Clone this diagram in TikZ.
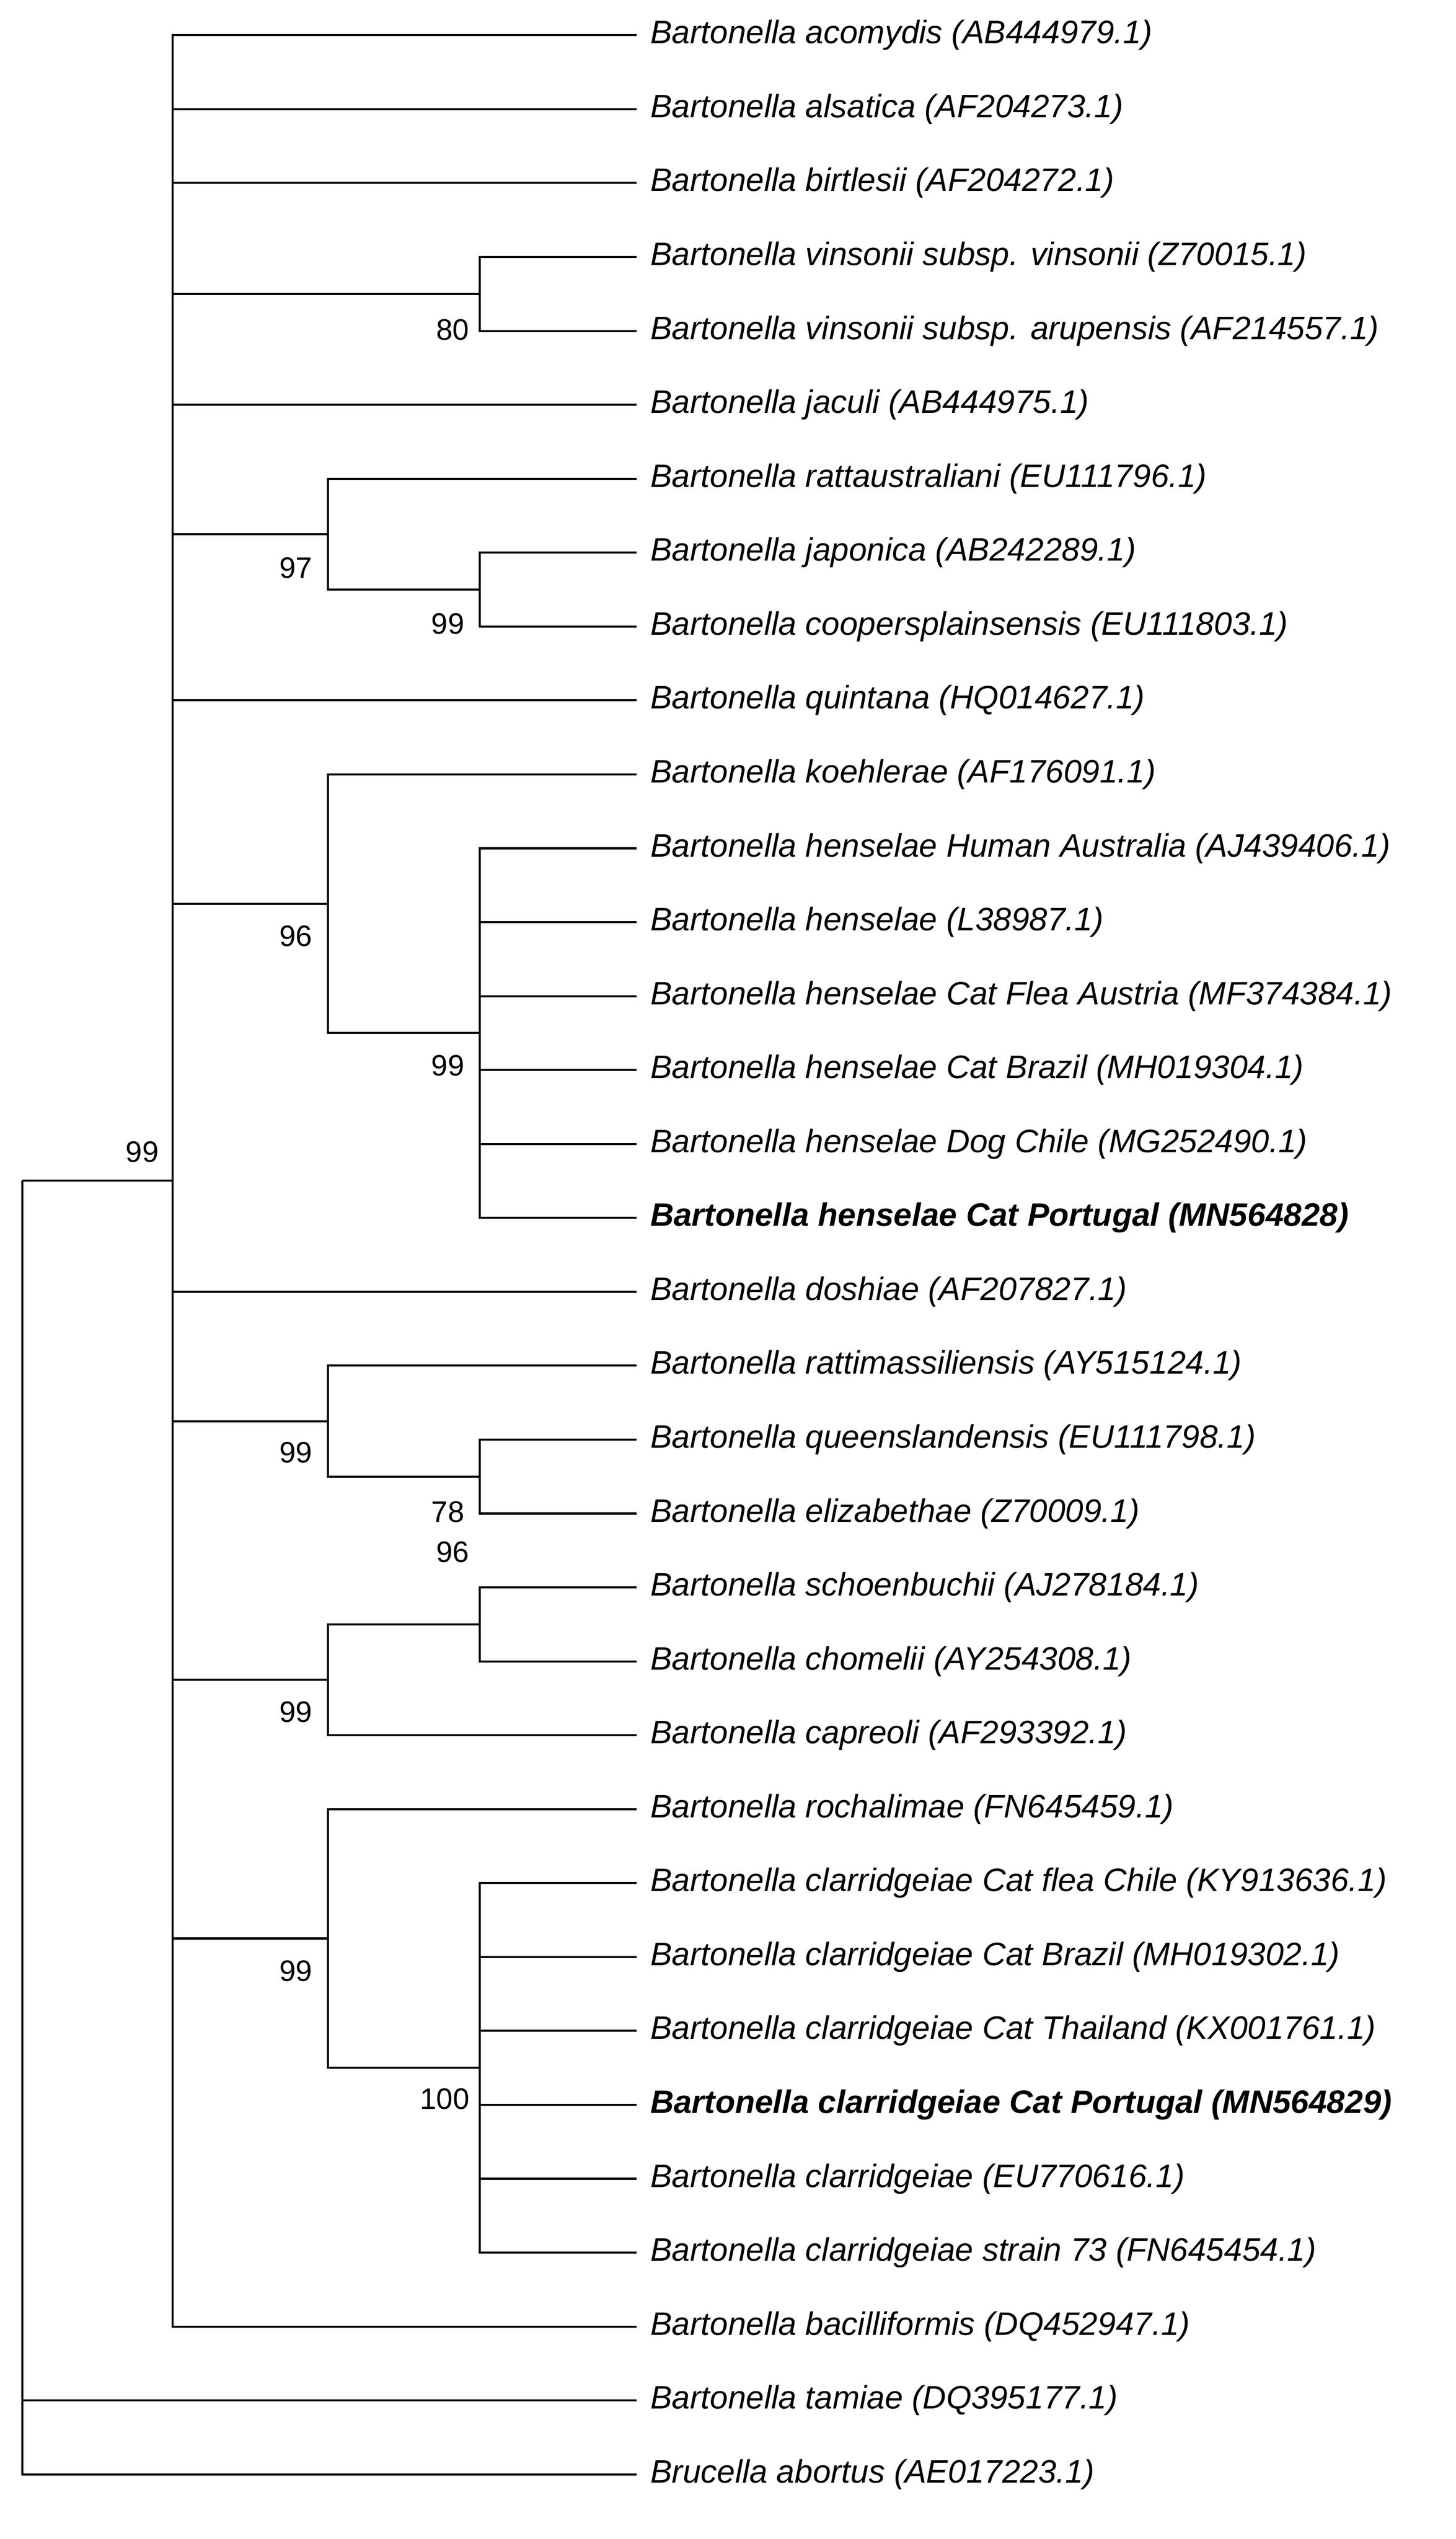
\documentclass[tikz,border=0pt]{standalone}
\usepackage{fontspec}
\setmainfont{Liberation Sans}
\begin{document}
\begin{tikzpicture}[x=1pt,y=-1pt,line width=1.3pt,
  leaf/.style={anchor=west,inner xsep=8pt,inner ysep=0pt,font=\fontsize{20.3}{23}\selectfont\itshape},
  bleaf/.style={leaf,font=\fontsize{20.3}{23}\selectfont\bfseries\itshape},
  boot/.style={font=\fontsize{18.5}{20}\selectfont,inner sep=0pt}]
\useasboundingbox[fill=white] (0,0) rectangle (910,1587);
\def\L#1#2#3{\node[leaf] (#1) at (398,#2) {Bartonella #3};}
\L{l1}{22}{acomydis (AB444979.1)}
\L{l2}{68.2}{alsatica (AF204273.1)}
\L{l3}{114.4}{birtlesii (AF204272.1)}
\L{l4}{160.6}{vinsonii subsp. vinsonii (Z70015.1)}
\L{l5}{206.8}{vinsonii subsp. arupensis (AF214557.1)}
\L{l6}{253}{jaculi (AB444975.1)}
\L{l7}{299.2}{rattaustraliani (EU111796.1)}
\L{l8}{345.4}{japonica (AB242289.1)}
\L{l9}{391.6}{coopersplainsensis (EU111803.1)}
\L{l10}{437.8}{quintana (HQ014627.1)}
\L{l11}{484}{koehlerae (AF176091.1)}
\L{l12}{530.2}{henselae Human Australia (AJ439406.1)}
\L{l13}{576.4}{henselae (L38987.1)}
\L{l14}{622.6}{henselae Cat Flea Austria (MF374384.1)}
\L{l15}{668.8}{henselae Cat Brazil (MH019304.1)}
\L{l16}{715}{henselae Dog Chile (MG252490.1)}
\node[bleaf] (l17) at (398,761.2) {Bartonella henselae Cat Portugal (MN564828)};
\L{l18}{807.4}{doshiae (AF207827.1)}
\L{l19}{853.6}{rattimassiliensis (AY515124.1)}
\L{l20}{899.8}{queenslandensis (EU111798.1)}
\L{l21}{946}{elizabethae (Z70009.1)}
\L{l22}{992.2}{schoenbuchii (AJ278184.1)}
\L{l23}{1038.4}{chomelii (AY254308.1)}
\L{l24}{1084.6}{capreoli (AF293392.1)}
\L{l25}{1130.8}{rochalimae (FN645459.1)}
\L{l26}{1177}{clarridgeiae Cat flea Chile (KY913636.1)}
\L{l27}{1223.2}{clarridgeiae Cat Brazil (MH019302.1)}
\L{l28}{1269.4}{clarridgeiae Cat Thailand (KX001761.1)}
\node[bleaf] (l29) at (398,1315.6) {Bartonella clarridgeiae Cat Portugal (MN564829)};
\L{l30}{1361.8}{clarridgeiae (EU770616.1)}
\L{l31}{1408}{clarridgeiae strain 73 (FN645454.1)}
\L{l32}{1454.2}{bacilliformis (DQ452947.1)}
\L{l33}{1500.4}{tamiae (DQ395177.1)}
\node[leaf] (l34) at (398,1546.6) {Brucella abortus (AE017223.1)};
\coordinate (vin) at (300,183.7);
\coordinate (jap) at (300,368.5);
\coordinate (c97) at (205,333.85);
\coordinate (hen) at (300,645.7);
\coordinate (c96) at (205,564.85);
\coordinate (qe) at (300,922.9);
\coordinate (c99a) at (205,888.25);
\coordinate (sc) at (300,1015.3);
\coordinate (c99b) at (205,1049.95);
\coordinate (cl) at (300,1292.5);
\coordinate (c99c) at (205,1211.65);
\coordinate (big) at (108,738);
\coordinate (root) at (14,738);
\foreach \c in {l4,l5} \draw (vin) |- (\c.west);
\foreach \c in {l8,l9} \draw (jap) |- (\c.west);
\draw (c97) |- (l7.west); \draw (c97) |- (jap);
\foreach \c in {l12,l13,l14,l15,l16,l17} \draw (hen) |- (\c.west);
\draw (c96) |- (l11.west); \draw (c96) |- (hen);
\foreach \c in {l20,l21} \draw (qe) |- (\c.west);
\draw (c99a) |- (l19.west); \draw (c99a) |- (qe);
\foreach \c in {l22,l23} \draw (sc) |- (\c.west);
\draw (c99b) |- (sc); \draw (c99b) |- (l24.west);
\foreach \c in {l26,l27,l28,l29,l30,l31} \draw (cl) |- (\c.west);
\draw (c99c) |- (l25.west); \draw (c99c) |- (cl);
\foreach \c in {l1,l2,l3,l6,l10,l18,l32} \draw (big) |- (\c.west);
\foreach \c in {vin,c97,c96,c99a,c99b,c99c} \draw (big) |- (\c);
\draw (root) -- (big);
\draw (root) |- (l33.west); \draw (root) |- (l34.west);
\node[boot] (b1) at (283,206) {80};
\node[boot] (b2) at (185,355) {97};
\node[boot] (b3) at (280,390) {99};
\node[boot] (b4) at (185,585) {96};
\node[boot] (b5) at (280,666) {99};
\node[boot] (b6) at (89,720) {99};
\node[boot] (b7) at (185,908) {99};
\node[boot] (b8) at (280,945) {78};
\node[boot] (b9) at (283,970) {96};
\node[boot] (b10) at (185,1070) {99};
\node[boot] (b11) at (185,1232) {99};
\node[boot] (b12) at (278,1312) {100};
\end{tikzpicture}
\end{document}
